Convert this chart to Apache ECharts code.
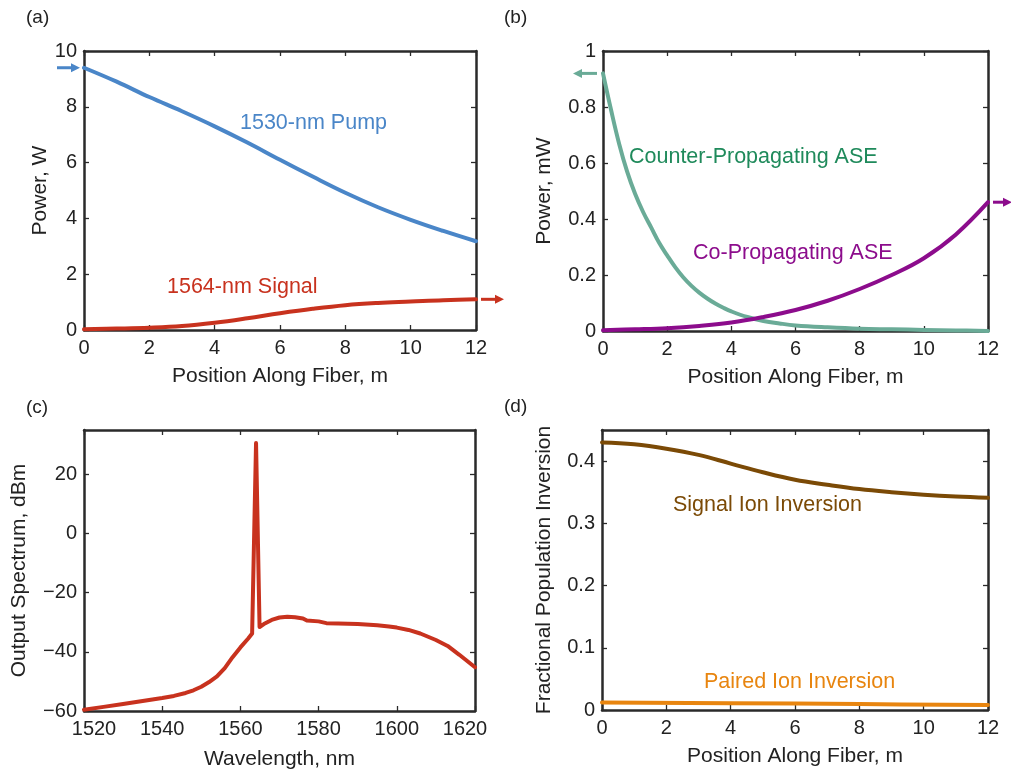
<!DOCTYPE html>
<html>
<head>
<meta charset="utf-8">
<script src="https://cdn.jsdelivr.net/npm/echarts@6/dist/echarts.min.js"></script>
<style>html,body{margin:0;padding:0;background:#fff}#c{width:1011px;height:772px}</style>
</head>
<body>
<div id="c"></div>
<script>
// ---- Data ----
const posA = [0,1,2,3,4,5,6,7,8,9,10,11,12];
const pumpW = [9.4,8.9,8.35,7.84,7.3,6.72,6.1,5.5,4.92,4.4,3.95,3.55,3.18];
const signalW = [0.03,0.05,0.08,0.14,0.26,0.42,0.6,0.76,0.89,0.97,1.02,1.07,1.1];

const posCounter = [0,0.25,0.5,0.75,1,1.25,1.5,1.75,2,2.25,2.5,2.75,3,3.25,3.5,3.75,4,4.5,5,5.5,6,7,8,9,10,11,12];
const counterASE = [0.92,0.79,0.67,0.57,0.49,0.425,0.37,0.315,0.27,0.228,0.192,0.162,0.137,0.116,0.098,0.083,0.07,0.05,0.036,0.027,0.02,0.013,0.008,0.006,0.004,0.002,0.0];
const posCo = [0,1,2,3,4,5,6,7,8,9,10,11,12];
const coASE = [0.003,0.006,0.01,0.018,0.03,0.05,0.075,0.108,0.15,0.2,0.26,0.345,0.46];

const wavelength = [1520,1525,1530,1535,1540,1543,1546,1548,1550,1552,1554,1556,1558,1560,1562,1563.0,1564.0,1564.9,1566,1568,1570,1572,1574,1576,1577,1580,1582,1585,1590,1595,1598,1600,1603,1606,1610,1613,1616,1620];
const spectrum = [-59.6,-58.6,-57.6,-56.6,-55.6,-54.9,-53.9,-53,-51.8,-50.2,-48.3,-45.5,-41.8,-38.5,-35.5,-33.8,30.6,-31.6,-30.6,-29.2,-28.4,-28.1,-28.3,-28.7,-29.4,-29.7,-30.3,-30.4,-30.6,-31,-31.4,-31.8,-32.6,-33.8,-36,-38,-41,-45.2];

const posInv = [0,1,2,3,4,5,6,7,8,9,10,11,12];
const signalInv = [0.43,0.427,0.42,0.41,0.396,0.382,0.37,0.362,0.355,0.35,0.346,0.343,0.341];
const posPaired = [0,4,8,12];
const pairedInv = [0.012,0.011,0.0095,0.008];

const xTicksPos = [0,12,2];      // min, max, interval
const yTicksA = [0,10,2];
const yTicksB = [0,1,0.2];
const xTicksC = [1520,1620,20];
const yTicksC = [-60,35,20];
const yTicksD = [0,0.45,0.1];

const labels = {
  pump: '1530-nm Pump', signal: '1564-nm Signal',
  counter: 'Counter-Propagating ASE', co: 'Co-Propagating ASE',
  sigInv: 'Signal Ion Inversion', paired: 'Paired Ion Inversion'
};

// ---- Styling ----
const FONT = '"Liberation Sans", "DejaVu Sans", sans-serif';
const FS = 20;      // tick labels
const FT = 21;      // axis titles
const FA = 21.5;    // annotations
const AX = '#2a2a2a';
const C = {
  pump: '#4a86c8', signal: '#c8321e', counter: '#6aab97', counterText: '#1f8a5b',
  co: '#8c0c8c', spec: '#c8321e', sigInv: '#7b4a06', paired: '#e8850f'
};

const grids = [
  {left: 84, top: 51, width: 392, height: 279},
  {left: 603, top: 51, width: 385, height: 280},
  {left: 84, top: 430, width: 391, height: 281},
  {left: 602, top: 430, width: 386, height: 280}
];

function pairs(xs, ys){ return xs.map((x,i)=>[x, ys[i]]); }
const minus = v => String(v).replace('-', '\u2212');

function xAxes(gi, t, name, gap, extraLabel){
  const base = {
    gridIndex: gi, type: 'value', min: t[0], max: t[1], interval: t[2],
    axisLine: {show: true, onZero: false, lineStyle: {color: AX, width: 2.5}},
    axisTick: {show: true, inside: true, length: 5, lineStyle: {color: AX, width: 1.3}},
    splitLine: {show: false}
  };
  return [
    Object.assign({}, base, {
      position: 'bottom', name: name, nameLocation: 'middle', nameGap: gap,
      nameTextStyle: {fontFamily: FONT, fontSize: FT, color: '#222'},
      axisLabel: Object.assign({show: true, margin: 8, fontFamily: FONT, fontSize: FS, color: '#222'}, extraLabel || {})
    }),
    Object.assign({}, base, {position: 'top', axisLabel: {show: false}})
  ];
}
function yAxes(gi, t, name, gap, fmt){
  const base = {
    gridIndex: gi, type: 'value', min: t[0], max: t[1], interval: t[2],
    axisLine: {show: true, onZero: false, lineStyle: {color: AX, width: 2.5}},
    axisTick: {show: true, inside: true, length: 5, lineStyle: {color: AX, width: 1.3}},
    splitLine: {show: false}
  };
  const r = t[1] / t[2];
  return [
    Object.assign({}, base, {
      position: 'left', name: name, nameLocation: 'middle', nameGap: gap,
      nameTextStyle: {fontFamily: FONT, fontSize: FT, color: '#222'},
      axisLabel: {show: true, margin: 7, fontFamily: FONT, fontSize: FS, color: '#222',
        showMaxLabel: Math.abs(r - Math.round(r)) < 1e-9, formatter: fmt}
    }),
    Object.assign({}, base, {position: 'right', axisLabel: {show: false}})
  ];
}

const xAxis = [].concat(
  xAxes(0, xTicksPos, 'Position Along Fiber, m', 36),
  xAxes(1, xTicksPos, 'Position Along Fiber, m', 36),
  xAxes(2, xTicksC, 'Wavelength, nm', 38, {
    formatter: function(v){
      if (v === xTicksC[0]) return '{l|' + v + '}';
      if (v === xTicksC[1]) return '{r|' + v + '}';
      return String(v);
    },
    rich: {
      l: {fontFamily: FONT, fontSize: FS, color: '#222', padding: [0,0,0,20]},
      r: {fontFamily: FONT, fontSize: FS, color: '#222', padding: [0,20,0,0]}
    }
  }),
  xAxes(3, xTicksPos, 'Position Along Fiber, m', 36)
);
const yAxis = [].concat(
  yAxes(0, yTicksA, 'Power, W', 33),
  yAxes(1, yTicksB, 'Power, mW', 48),
  yAxes(2, yTicksC, 'Output Spectrum, dBm', 54, minus),
  yAxes(3, yTicksD, 'Fractional Population Inversion', 47)
);

function lineSeries(gi, data, color, smooth){
  return {
    type: 'line', xAxisIndex: gi*2, yAxisIndex: gi*2, data: data,
    showSymbol: false, symbol: 'none', smooth: smooth, silent: true,
    lineStyle: {color: color, width: 4, cap: 'round', join: 'round'}
  };
}

const series = [
  lineSeries(0, pairs(posA, pumpW), C.pump, 0.4),
  lineSeries(0, pairs(posA, signalW), C.signal, 0.4),
  lineSeries(1, pairs(posCounter, counterASE), C.counter, 0.4),
  lineSeries(1, pairs(posCo, coASE), C.co, 0.4),
  lineSeries(2, pairs(wavelength, spectrum), C.spec, false),
  lineSeries(3, pairs(posInv, signalInv), C.sigInv, 0.4),
  lineSeries(3, pairs(posPaired, pairedInv), C.paired, 0.4)
];

function txt(x, yc, text, color, size){
  const s = size || FA;
  return {type: 'text', left: x, top: Math.round(yc - s * 0.55), silent: true,
    style: {text: text, fill: color, font: s + 'px ' + FONT}};
}

const chart = echarts.init(document.getElementById('c'), null, {renderer: 'canvas'});
chart.setOption({
  backgroundColor: '#fff',
  animation: false,
  grid: grids.map(g => Object.assign({containLabel: false}, g)),
  xAxis: xAxis, yAxis: yAxis, series: series
});

// Annotations and arrows, positioned from data values
function px(gi, x, y){ return chart.convertToPixel({xAxisIndex: gi*2, yAxisIndex: gi*2}, [x, y]); }
function arrow(x1, y, x2, color){
  const dir = x2 > x1 ? 1 : -1;
  const head = 9, hw = 4.5;
  return [
    {type: 'line', silent: true, shape: {x1: x1, y1: y, x2: x2 - dir*head*0.8, y2: y}, style: {stroke: color, lineWidth: 3}},
    {type: 'polygon', silent: true, shape: {points: [[x2, y], [x2 - dir*head, y - hw], [x2 - dir*head, y + hw]]}, style: {fill: color}}
  ];
}
const pA0 = px(0, posA[0], pumpW[0]);
const pA1 = px(0, posA[posA.length-1], signalW[signalW.length-1]);
const pB0 = px(1, posCounter[0], counterASE[0]);
const pB1 = px(1, posCo[posCo.length-1], coASE[coASE.length-1]);

const graphics = [].concat(
  arrow(pA0[0] - 27, pA0[1], pA0[0] - 4, C.pump),
  arrow(pA1[0] + 5, pA1[1], pA1[0] + 28, C.signal),
  arrow(pB0[0] - 6, pB0[1], pB0[0] - 30, C.counter),
  arrow(pB1[0] + 5, pB1[1], pB1[0] + 24, C.co),
  [
    txt(26, 18, '(a)', '#222', 19),
    txt(504, 18, '(b)', '#222', 19),
    txt(26, 408, '(c)', '#222', 19),
    txt(504, 407, '(d)', '#222', 19),
    txt(240, 124, labels.pump, C.pump),
    txt(167, 288, labels.signal, C.signal),
    txt(629, 158, labels.counter, C.counterText),
    txt(693, 254, labels.co, C.co),
    txt(673, 506, labels.sigInv, C.sigInv),
    txt(704, 683, labels.paired, C.paired)
  ]
);
chart.setOption({graphic: graphics});
</script>
</body>
</html>
